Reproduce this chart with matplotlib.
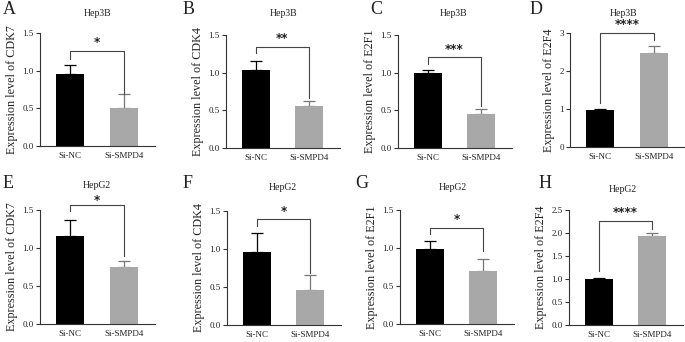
import numpy as np
import matplotlib
matplotlib.use("Agg")
import matplotlib.pyplot as plt

plt.rcParams['font.family'] = ['Liberation Serif', 'DejaVu Serif']

groups = ["Si-NC", "Si-SMPD4"]
letters = ["A", "B", "C", "D", "E", "F", "G", "H"]
cells = ["Hep3B"] * 4 + ["HepG2"] * 4
genes = ["CDK7", "CDK4", "E2F1", "E2F4", "CDK7", "CDK4", "E2F1", "E2F4"]

nc_mean = [0.95, 1.03, 1.00, 0.97, 1.16, 0.96, 0.99, 0.99]
nc_err = [0.13, 0.13, 0.03, 0.03, 0.21, 0.25, 0.10, 0.04]
kd_mean = [0.51, 0.56, 0.45, 2.47, 0.745, 0.455, 0.70, 1.94]
kd_err = [0.18, 0.07, 0.07, 0.18, 0.085, 0.20, 0.155, 0.06]

sig = ["*", "**", "***", "****", "*", "*", "*", "****"]
# bracket height, left leg end, right leg end, star height
bracket = [(1.26, 1.15, 0.69, 1.37), (1.345, 1.26, 0.66, 1.46),
           (1.21, 1.12, 0.555, 1.31), (3.0, 1.15, 2.82, 3.22),
           (1.566, 1.49, 0.90, 1.63), (1.39, 1.30, 0.69, 1.50),
           (1.26, 1.18, 0.965, 1.37), (2.27, 1.18, 2.08, 2.44)]
ymax = [1.5, 1.5, 1.5, 3, 1.5, 1.5, 1.5, 2.5]
ystep = [0.5, 0.5, 0.5, 1, 0.5, 0.5, 0.5, 0.5]

bar_colors = ["black", "#a8a8a8"]
err_colors = ["black", "#777777"]

# layout in pixels: axis left x, top y, bottom y, right x
W, H = 685, 342
rects = [(40, 33, 146, 155), (226, 35, 148, 340), (398, 35, 148, 512), (570, 33, 147, 685),
         (40, 210, 324, 155), (227, 211, 325, 341), (400, 210, 324, 514), (569, 210, 325, 683)]
letter_pos = [(3, 10), (183, 10), (370, 10), (530, 10), (3, 184), (183, 183), (355, 183), (539, 183)]
title_pos = [(97, 14), (283, 14), (453, 14), (623, 13), (97, 186), (283, 188), (453, 188), (623, 189)]

fig = plt.figure(figsize=(W / 100, H / 100), dpi=100)

for i in range(8):
    lx, ty, by, rx = rects[i]
    ax = fig.add_axes([lx / W, 1 - by / H, (rx - lx) / W, (by - ty) / H])
    x = np.arange(2)
    means = [nc_mean[i], kd_mean[i]]
    errs = [nc_err[i], kd_err[i]]
    ax.bar(x, means, width=0.52, color=bar_colors, edgecolor="none", zorder=2)
    for j in range(2):
        ax.errorbar(x[j], means[j], yerr=[[0], [errs[j]]], fmt="none",
                    ecolor=err_colors[j], elinewidth=0.9, capsize=4, capthick=0.9, zorder=1)
    ax.set_xlim(-0.56, 1.58)
    ax.set_ylim(0, ymax[i])
    ticks = np.arange(0, ymax[i] + 1e-9, ystep[i])
    ax.set_yticks(ticks)
    if ystep[i] == 1:
        ax.set_yticklabels([f"{t:.0f}" for t in ticks])
    else:
        ax.set_yticklabels([f"{t:.1f}" for t in ticks])
    ax.set_xticks(x)
    ax.set_xticklabels(groups)
    ax.tick_params(axis="y", labelsize=6.5, length=3, width=0.8, pad=1.5,
                   color="#333333", labelcolor="#222222")
    ax.tick_params(axis="x", labelsize=6.5, length=0, pad=4, labelcolor="#222222")
    for s in ["top", "right"]:
        ax.spines[s].set_visible(False)
    for s in ["left", "bottom"]:
        ax.spines[s].set_linewidth(0.8)
        ax.spines[s].set_color("#333333")
    ax.set_ylabel(f"Expression level of {genes[i]}", fontsize=8.7, labelpad=3, color="#222222")

    bh, l0, r0, sh = bracket[i]
    ax.plot([0, 0, 1, 1], [l0, bh, bh, r0], color="#444444", lw=0.8, clip_on=False)
    ax.text(0.5, sh, sig[i], ha="center", va="center", fontsize=8.5,
            fontweight="bold", family="DejaVu Sans", color="#222222", clip_on=False)

    fx, fy = letter_pos[i]
    fig.text(fx / W, 1 - fy / H, letters[i], fontsize=13, ha="left", va="center", color="#222222")
    tx, tyy = title_pos[i]
    fig.text(tx / W, 1 - tyy / H, cells[i], fontsize=7, ha="center", va="center", color="#222222")

fig.savefig("out.png", dpi=100)
